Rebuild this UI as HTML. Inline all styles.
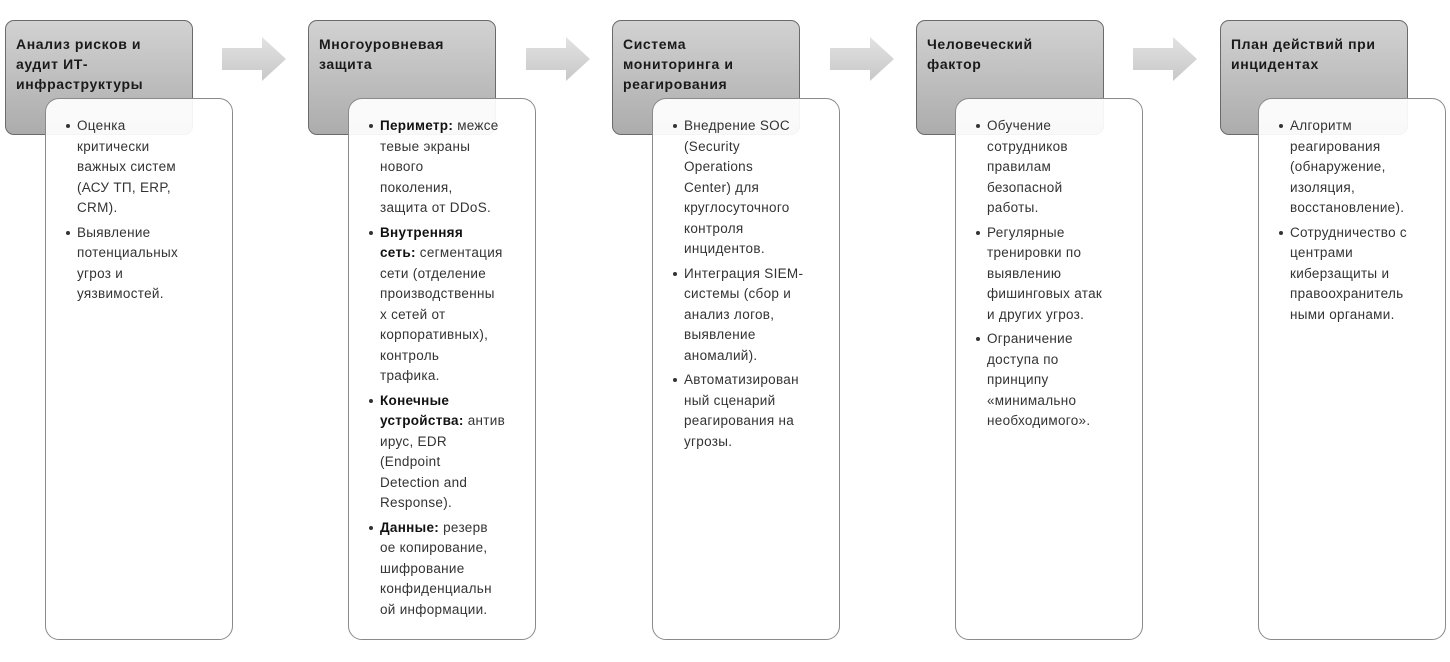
<!DOCTYPE html>
<html><head><meta charset="utf-8"><style>
body{margin:0;width:1450px;height:662px;background:#fff;position:relative;overflow:hidden;font-family:"Liberation Sans","DejaVu Sans",sans-serif;color:#222}
.h{position:absolute;top:20px;width:188px;height:115px;border:1.5px solid #6a6a6a;border-radius:9px;background:linear-gradient(#d2d2d2,#acacac);box-sizing:border-box}
.h div{position:absolute;left:10px;top:13px;font-weight:bold;font-size:14px;letter-spacing:0.6px;line-height:20px;white-space:nowrap;color:#1a1a1a}
.c{position:absolute;top:98px;width:188px;height:542px;border:1.5px solid #8a8a8a;border-radius:14px;background:rgba(255,255,255,0.93);box-sizing:border-box}
.c ul{margin:0;padding:0;list-style:none;position:absolute;left:31px;top:17px;font-size:13.5px;letter-spacing:0.3px;line-height:20.5px;color:#333;white-space:nowrap}
.c li{position:relative;margin-bottom:4px}
.c li:before{content:"";position:absolute;left:-11px;top:8px;width:4px;height:4px;border-radius:50%;background:#333}
.c b{color:#111}
.a{position:absolute;top:37px;width:64px;height:44px}
</style></head><body>
<svg width="0" height="0" style="position:absolute"><defs><linearGradient id="g" x1="0" y1="0" x2="0" y2="1"><stop offset="0" stop-color="#e2e2e2"/><stop offset="1" stop-color="#c8c8c8"/></linearGradient></defs></svg>

<div class="h" style="left:5px"><div>Анализ рисков и<br>аудит ИТ-<br>инфраструктуры</div></div>
<div class="c" style="left:45px"><ul>
<li>Оценка<br>критически<br>важных систем<br>(АСУ ТП, ERP,<br>CRM).</li>
<li>Выявление<br>потенциальных<br>угроз и<br>уязвимостей.</li></ul></div>

<div class="h" style="left:308px"><div>Многоуровневая<br>защита</div></div>
<div class="c" style="left:348px"><ul>
<li><b>Периметр:</b> межсе<br>тевые экраны<br>нового<br>поколения,<br>защита от DDoS.</li>
<li><b>Внутренняя<br>сеть:</b> сегментация<br>сети (отделение<br>производственны<br>х сетей от<br>корпоративных),<br>контроль<br>трафика.</li>
<li><b>Конечные<br>устройства:</b> антив<br>ирус, EDR<br>(Endpoint<br>Detection and<br>Response).</li>
<li><b>Данные:</b> резерв<br>ое копирование,<br>шифрование<br>конфиденциальн<br>ой информации.</li></ul></div>

<div class="h" style="left:612px"><div>Система<br>мониторинга и<br>реагирования</div></div>
<div class="c" style="left:652px"><ul>
<li>Внедрение SOC<br>(Security<br>Operations<br>Center) для<br>круглосуточного<br>контроля<br>инцидентов.</li>
<li>Интеграция SIEM-<br>системы (сбор и<br>анализ логов,<br>выявление<br>аномалий).</li>
<li>Автоматизирован<br>ный сценарий<br>реагирования на<br>угрозы.</li></ul></div>

<div class="h" style="left:916px"><div>Человеческий<br>фактор</div></div>
<div class="c" style="left:955px"><ul>
<li>Обучение<br>сотрудников<br>правилам<br>безопасной<br>работы.</li>
<li>Регулярные<br>тренировки по<br>выявлению<br>фишинговых атак<br>и других угроз.</li>
<li>Ограничение<br>доступа по<br>принципу<br>«минимально<br>необходимого».</li></ul></div>

<div class="h" style="left:1220px"><div>План действий при<br>инцидентах</div></div>
<div class="c" style="left:1258px"><ul>
<li>Алгоритм<br>реагирования<br>(обнаружение,<br>изоляция,<br>восстановление).</li>
<li>Сотрудничество с<br>центрами<br>киберзащиты и<br>правоохранитель<br>ными органами.</li></ul></div>

<svg class="a" style="left:222px" viewBox="0 0 64 44"><polygon points="0,11 40,11 40,0 64,22 40,44 40,33 0,33" fill="url(#g)"/></svg>
<svg class="a" style="left:526px" viewBox="0 0 64 44"><polygon points="0,11 40,11 40,0 64,22 40,44 40,33 0,33" fill="url(#g)"/></svg>
<svg class="a" style="left:830px" viewBox="0 0 64 44"><polygon points="0,11 40,11 40,0 64,22 40,44 40,33 0,33" fill="url(#g)"/></svg>
<svg class="a" style="left:1133px" viewBox="0 0 64 44"><polygon points="0,11 40,11 40,0 64,22 40,44 40,33 0,33" fill="url(#g)"/></svg>
</body></html>
